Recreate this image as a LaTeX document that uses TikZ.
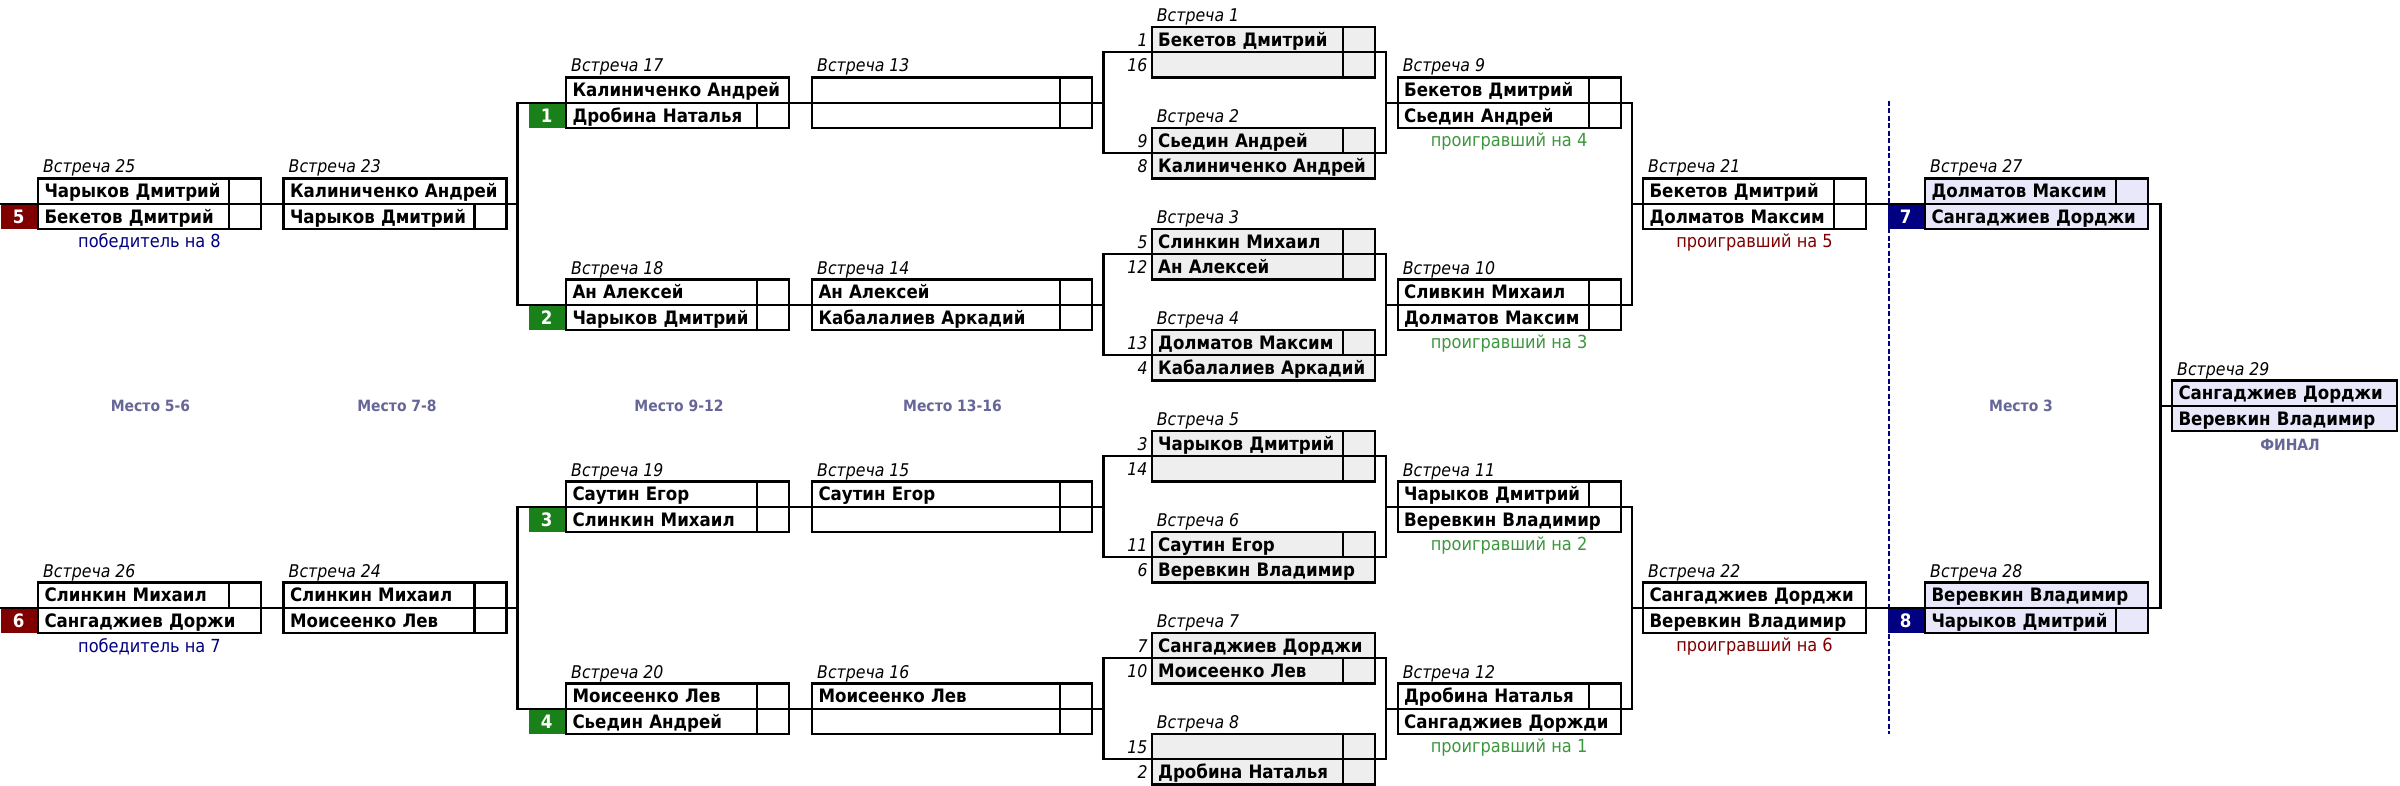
\documentclass[tikz,border=0pt]{standalone}
\usepackage{fontspec}
\setmainfont{DejaVu Sans Condensed}
\usetikzlibrary{positioning}
\definecolor{gr}{RGB}{238,238,238}
\definecolor{lv}{RGB}{232,232,250}
\definecolor{sg}{RGB}{26,128,26}
\definecolor{sr}{RGB}{128,0,0}
\definecolor{sb}{RGB}{0,0,128}
\definecolor{lg}{RGB}{60,150,60}
\definecolor{pc}{RGB}{102,102,153}
\tikzset{
  pl/.style={draw,line width=2.2pt,outer sep=0pt,anchor=north west,minimum height=25.25pt,
    inner xsep=6.5pt,inner ysep=0pt,text width=210pt,text height=13.5pt,text depth=0pt,
    align=left,font=\fontsize{18.5}{20}\selectfont\bfseries},
  wide/.style={text width=267pt},
  sc/.style={draw,line width=2.2pt,outer sep=0pt,anchor=north east,minimum width=32pt,
    minimum height=25.25pt,inner sep=0pt},
  mt/.style={anchor=base west,xshift=5pt,yshift=5.5pt,inner sep=0pt,
    font=\fontsize{17.5}{20}\selectfont\itshape},
  sn/.style={anchor=east,xshift=-4pt,inner sep=0pt,text height=13.5pt,text depth=0pt,
    font=\fontsize{17.5}{20}\selectfont\itshape},
  sd/.style={anchor=north east,xshift=-1.1pt,minimum width=36pt,minimum height=25.25pt,
    inner sep=0pt,text=white,text height=13.5pt,text depth=0pt,
    font=\fontsize{18.5}{20}\selectfont\bfseries},
  ls/.style={anchor=base,yshift=-18.5pt,inner sep=0pt,font=\fontsize{18}{20}\selectfont},
  pt/.style={anchor=base,inner sep=0pt,text=pc,font=\fontsize{15.5}{18}\selectfont\bfseries}
}
\begin{document}
\begin{tikzpicture}[x=1pt,y=-1pt]
  \useasboundingbox (0,0) rectangle (2400,786);
  \node[pl,fill=gr] (m1t) at (1151.7,27) {Бекетов Дмитрий};
  \node[pl,fill=gr,below=0pt of m1t] (m1b) {};
  \node[sc] (m1ts) at (m1t.north east) {};
  \node[sc] (m1bs) at (m1b.north east) {};
  \node[mt] (t1) at (m1t.north west) {Встреча 1};
  \node[sn] (n1) at (m1t.west) {1};
  \node[sn] (n16) at (m1b.west) {16};
  \node[pl,fill=gr] (m2t) at (1151.7,128) {Сьедин Андрей};
  \node[pl,fill=gr,below=0pt of m2t] (m2b) {Калиниченко Андрей};
  \node[sc] (m2ts) at (m2t.north east) {};
  \node[mt] (t2) at (m2t.north west) {Встреча 2};
  \node[sn] (n9) at (m2t.west) {9};
  \node[sn] (n8) at (m2b.west) {8};
  \node[pl,fill=gr] (m3t) at (1151.7,229) {Слинкин Михаил};
  \node[pl,fill=gr,below=0pt of m3t] (m3b) {Ан Алексей};
  \node[sc] (m3ts) at (m3t.north east) {};
  \node[sc] (m3bs) at (m3b.north east) {};
  \node[mt] (t3) at (m3t.north west) {Встреча 3};
  \node[sn] (n5) at (m3t.west) {5};
  \node[sn] (n12) at (m3b.west) {12};
  \node[pl,fill=gr] (m4t) at (1151.7,330) {Долматов Максим};
  \node[pl,fill=gr,below=0pt of m4t] (m4b) {Кабалалиев Аркадий};
  \node[sc] (m4ts) at (m4t.north east) {};
  \node[mt] (t4) at (m4t.north west) {Встреча 4};
  \node[sn] (n13) at (m4t.west) {13};
  \node[sn] (n4) at (m4b.west) {4};
  \node[pl,fill=gr] (m5t) at (1151.7,431) {Чарыков Дмитрий};
  \node[pl,fill=gr,below=0pt of m5t] (m5b) {};
  \node[sc] (m5ts) at (m5t.north east) {};
  \node[sc] (m5bs) at (m5b.north east) {};
  \node[mt] (t5) at (m5t.north west) {Встреча 5};
  \node[sn] (n3) at (m5t.west) {3};
  \node[sn] (n14) at (m5b.west) {14};
  \node[pl,fill=gr] (m6t) at (1151.7,532) {Саутин Егор};
  \node[pl,fill=gr,below=0pt of m6t] (m6b) {Веревкин Владимир};
  \node[sc] (m6ts) at (m6t.north east) {};
  \node[mt] (t6) at (m6t.north west) {Встреча 6};
  \node[sn] (n11) at (m6t.west) {11};
  \node[sn] (n6) at (m6b.west) {6};
  \node[pl,fill=gr] (m7t) at (1151.7,633) {Сангаджиев Дорджи};
  \node[pl,fill=gr,below=0pt of m7t] (m7b) {Моисеенко Лев};
  \node[sc] (m7bs) at (m7b.north east) {};
  \node[mt] (t7) at (m7t.north west) {Встреча 7};
  \node[sn] (n7) at (m7t.west) {7};
  \node[sn] (n10) at (m7b.west) {10};
  \node[pl,fill=gr] (m8t) at (1151.7,734) {};
  \node[pl,fill=gr,below=0pt of m8t] (m8b) {Дробина Наталья};
  \node[sc] (m8ts) at (m8t.north east) {};
  \node[sc] (m8bs) at (m8b.north east) {};
  \node[mt] (t8) at (m8t.north west) {Встреча 8};
  \node[sn] (n15) at (m8t.west) {15};
  \node[sn] (n2) at (m8b.west) {2};
  \node[pl] (m9t) at (1397.6,77.5) {Бекетов Дмитрий};
  \node[pl,below=0pt of m9t] (m9b) {Сьедин Андрей};
  \node[sc] (m9ts) at (m9t.north east) {};
  \node[sc] (m9bs) at (m9b.north east) {};
  \node[mt] (t9) at (m9t.north west) {Встреча 9};
  \node[ls,text=lg] (l9) at (m9b.south) {проигравший на 4};
  \node[pl] (m10t) at (1397.6,279.5) {Сливкин Михаил};
  \node[pl,below=0pt of m10t] (m10b) {Долматов Максим};
  \node[sc] (m10ts) at (m10t.north east) {};
  \node[sc] (m10bs) at (m10b.north east) {};
  \node[mt] (t10) at (m10t.north west) {Встреча 10};
  \node[ls,text=lg] (l10) at (m10b.south) {проигравший на 3};
  \node[pl] (m11t) at (1397.6,481.5) {Чарыков Дмитрий};
  \node[pl,below=0pt of m11t] (m11b) {Веревкин Владимир};
  \node[sc] (m11ts) at (m11t.north east) {};
  \node[mt] (t11) at (m11t.north west) {Встреча 11};
  \node[ls,text=lg] (l11) at (m11b.south) {проигравший на 2};
  \node[pl] (m12t) at (1397.6,683.5) {Дробина Наталья};
  \node[pl,below=0pt of m12t] (m12b) {Сангаджиев Доржди};
  \node[sc] (m12ts) at (m12t.north east) {};
  \node[mt] (t12) at (m12t.north west) {Встреча 12};
  \node[ls,text=lg] (l12) at (m12b.south) {проигравший на 1};
  \node[pl,wide] (m13t) at (812,77.5) {};
  \node[pl,wide,below=0pt of m13t] (m13b) {};
  \node[sc] (m13ts) at (m13t.north east) {};
  \node[sc] (m13bs) at (m13b.north east) {};
  \node[mt] (t13) at (m13t.north west) {Встреча 13};
  \node[pl,wide] (m14t) at (812,279.5) {Ан Алексей};
  \node[pl,wide,below=0pt of m14t] (m14b) {Кабалалиев Аркадий};
  \node[sc] (m14ts) at (m14t.north east) {};
  \node[sc] (m14bs) at (m14b.north east) {};
  \node[mt] (t14) at (m14t.north west) {Встреча 14};
  \node[pl,wide] (m15t) at (812,481.5) {Саутин Егор};
  \node[pl,wide,below=0pt of m15t] (m15b) {};
  \node[sc] (m15ts) at (m15t.north east) {};
  \node[sc] (m15bs) at (m15b.north east) {};
  \node[mt] (t15) at (m15t.north west) {Встреча 15};
  \node[pl,wide] (m16t) at (812,683.5) {Моисеенко Лев};
  \node[pl,wide,below=0pt of m16t] (m16b) {};
  \node[sc] (m16ts) at (m16t.north east) {};
  \node[sc] (m16bs) at (m16b.north east) {};
  \node[mt] (t16) at (m16t.north west) {Встреча 16};
  \node[pl] (m17t) at (566,77.5) {Калиниченко Андрей};
  \node[pl,below=0pt of m17t] (m17b) {Дробина Наталья};
  \node[sc] (m17bs) at (m17b.north east) {};
  \node[mt] (t17) at (m17t.north west) {Встреча 17};
  \node[sd,fill=sg] (s1) at (m17b.north west) {1};
  \node[pl] (m18t) at (566,279.5) {Ан Алексей};
  \node[pl,below=0pt of m18t] (m18b) {Чарыков Дмитрий};
  \node[sc] (m18ts) at (m18t.north east) {};
  \node[sc] (m18bs) at (m18b.north east) {};
  \node[mt] (t18) at (m18t.north west) {Встреча 18};
  \node[sd,fill=sg] (s2) at (m18b.north west) {2};
  \node[pl] (m19t) at (566,481.5) {Саутин Егор};
  \node[pl,below=0pt of m19t] (m19b) {Слинкин Михаил};
  \node[sc] (m19ts) at (m19t.north east) {};
  \node[sc] (m19bs) at (m19b.north east) {};
  \node[mt] (t19) at (m19t.north west) {Встреча 19};
  \node[sd,fill=sg] (s3) at (m19b.north west) {3};
  \node[pl] (m20t) at (566,683.5) {Моисеенко Лев};
  \node[pl,below=0pt of m20t] (m20b) {Сьедин Андрей};
  \node[sc] (m20ts) at (m20t.north east) {};
  \node[sc] (m20bs) at (m20b.north east) {};
  \node[mt] (t20) at (m20t.north west) {Встреча 20};
  \node[sd,fill=sg] (s4) at (m20b.north west) {4};
  \node[pl] (m21t) at (1643,178.5) {Бекетов Дмитрий};
  \node[pl,below=0pt of m21t] (m21b) {Долматов Максим};
  \node[sc] (m21ts) at (m21t.north east) {};
  \node[sc] (m21bs) at (m21b.north east) {};
  \node[mt] (t21) at (m21t.north west) {Встреча 21};
  \node[ls,text=sr] (l21) at (m21b.south) {проигравший на 5};
  \node[pl] (m22t) at (1643,582.5) {Сангаджиев Дорджи};
  \node[pl,below=0pt of m22t] (m22b) {Веревкин Владимир};
  \node[mt] (t22) at (m22t.north west) {Встреча 22};
  \node[ls,text=sr] (l22) at (m22b.south) {проигравший на 6};
  \node[pl] (m23t) at (283.5,178.5) {Калиниченко Андрей};
  \node[pl,below=0pt of m23t] (m23b) {Чарыков Дмитрий};
  \node[sc] (m23bs) at (m23b.north east) {};
  \node[mt] (t23) at (m23t.north west) {Встреча 23};
  \node[pl] (m24t) at (283.5,582.5) {Слинкин Михаил};
  \node[pl,below=0pt of m24t] (m24b) {Моисеенко Лев};
  \node[sc] (m24ts) at (m24t.north east) {};
  \node[sc] (m24bs) at (m24b.north east) {};
  \node[mt] (t24) at (m24t.north west) {Встреча 24};
  \node[pl] (m25t) at (38,178.5) {Чарыков Дмитрий};
  \node[pl,below=0pt of m25t] (m25b) {Бекетов Дмитрий};
  \node[sc] (m25ts) at (m25t.north east) {};
  \node[sc] (m25bs) at (m25b.north east) {};
  \node[mt] (t25) at (m25t.north west) {Встреча 25};
  \node[sd,fill=sr] (s5) at (m25b.north west) {5};
  \node[ls,text=sb,yshift=-0.5pt] (w25) at (m25b.south) {победитель на 8};
  \node[pl] (m26t) at (38,582.5) {Слинкин Михаил};
  \node[pl,below=0pt of m26t] (m26b) {Сангаджиев Доржи};
  \node[sc] (m26ts) at (m26t.north east) {};
  \node[mt] (t26) at (m26t.north west) {Встреча 26};
  \node[sd,fill=sr] (s6) at (m26b.north west) {6};
  \node[ls,text=sb,yshift=-0.5pt] (w26) at (m26b.south) {победитель на 7};
  \node[pl,fill=lv] (m27t) at (1925,178.5) {Долматов Максим};
  \node[pl,fill=lv,below=0pt of m27t] (m27b) {Сангаджиев Дорджи};
  \node[sc] (m27ts) at (m27t.north east) {};
  \node[mt] (t27) at (m27t.north west) {Встреча 27};
  \node[sd,fill=sb] (s7) at (m27b.north west) {7};
  \node[pl,fill=lv] (m28t) at (1925,582.5) {Веревкин Владимир};
  \node[pl,fill=lv,below=0pt of m28t] (m28b) {Чарыков Дмитрий};
  \node[sc] (m28bs) at (m28b.north east) {};
  \node[mt] (t28) at (m28t.north west) {Встреча 28};
  \node[sd,fill=sb] (s8) at (m28b.north west) {8};
  \node[pl,fill=lv,text width=212pt] (m29t) at (2172,380.5) {Сангаджиев Дорджи};
  \node[pl,fill=lv,text width=212pt,below=0pt of m29t] (m29b) {Веревкин Владимир};
  \node[mt] (t29) at (m29t.north west) {Встреча 29};
  \node[pt] (p56) at (150.5,411.5) {Место 5-6};
  \node[pt] (p78) at (397,411.5) {Место 7-8};
  \node[pt] (p912) at (679,411.5) {Место 9-12};
  \node[pt] (p1316) at (952.5,411.5) {Место 13-16};
  \node[pt] (p3) at (2021,411.5) {Место 3};
  \node[pt] (pf) at (2290,450.5) {ФИНАЛ};
  \coordinate (e1) at (0,203.75);
  \coordinate (e2) at (0,607.75);
  \coordinate (k1) at (517.5,203.75);
  \coordinate (k2) at (517.5,607.75);
  \coordinate (a1) at (1103.5,102.75);
  \coordinate (a2) at (1103.5,304.75);
  \coordinate (a3) at (1103.5,506.75);
  \coordinate (a4) at (1103.5,708.75);
  \coordinate (b1) at (1386,102.75);
  \coordinate (b2) at (1386,304.75);
  \coordinate (b3) at (1386,506.75);
  \coordinate (b4) at (1386,708.75);
  \coordinate (c1) at (1632,203.75);
  \coordinate (c2) at (1632,607.75);
  \coordinate (f) at (2160.5,405.75);
  \coordinate (d1) at (1889,101);
  \coordinate (d2) at (1889,734);
  \draw[sb,line width=1.3pt,dash pattern=on 5pt off 2.5pt] (d1) -- (d2);
  \begin{scope}[line width=2.2pt]
    \draw (m25t.south west) -- (e1);
    \draw (m26t.south west) -- (e2);
    \draw (m25t.south east) -- (m23t.south west);
    \draw (m26t.south east) -- (m24t.south west);
    \draw (m23t.south east) -- (k1);
    \draw (m24t.south east) -- (k2);
    \draw (m17t.south west) -| (k1) |- (m18t.south west);
    \draw (m19t.south west) -| (k2) |- (m20t.south west);
    \draw (m17t.south east) -- (m13t.south west);
    \draw (m18t.south east) -- (m14t.south west);
    \draw (m19t.south east) -- (m15t.south west);
    \draw (m20t.south east) -- (m16t.south west);
    \draw (m13t.south east) -- (a1);
    \draw (m14t.south east) -- (a2);
    \draw (m15t.south east) -- (a3);
    \draw (m16t.south east) -- (a4);
    \draw (m1t.south west) -| (a1) |- (m2t.south west);
    \draw (m3t.south west) -| (a2) |- (m4t.south west);
    \draw (m5t.south west) -| (a3) |- (m6t.south west);
    \draw (m7t.south west) -| (a4) |- (m8t.south west);
    \draw (m1t.south east) -| (b1) |- (m2t.south east);
    \draw (m3t.south east) -| (b2) |- (m4t.south east);
    \draw (m5t.south east) -| (b3) |- (m6t.south east);
    \draw (m7t.south east) -| (b4) |- (m8t.south east);
    \draw (b1) -- (m9t.south west);
    \draw (b2) -- (m10t.south west);
    \draw (b3) -- (m11t.south west);
    \draw (b4) -- (m12t.south west);
    \draw (m9t.south east) -| (c1) |- (m10t.south east);
    \draw (m11t.south east) -| (c2) |- (m12t.south east);
    \draw (c1) -- (m21t.south west);
    \draw (c2) -- (m22t.south west);
    \draw (m21t.south east) -- (m27t.south west);
    \draw (m22t.south east) -- (m28t.south west);
    \draw (m27t.south east) -| (f) |- (m28t.south east);
    \draw (f) -- (m29t.south west);
  \end{scope}
\end{tikzpicture}
\end{document}
